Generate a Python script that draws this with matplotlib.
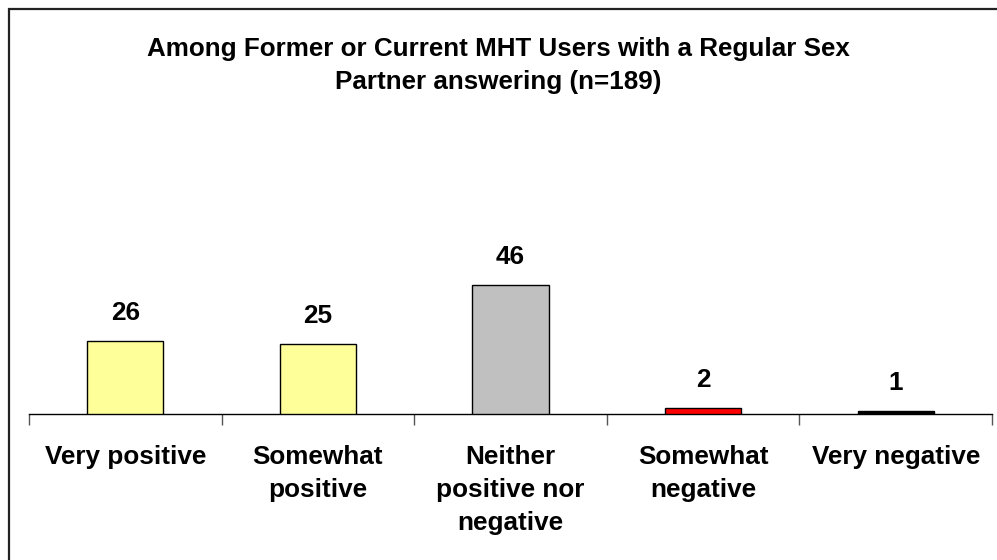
import matplotlib
matplotlib.use("Agg")
import matplotlib.pyplot as plt
from matplotlib.patches import Rectangle

categories = ["Very positive", "Somewhat\npositive", "Neither\npositive nor\nnegative", "Somewhat\nnegative", "Very negative"]
values = [26, 25, 46, 2, 1]
colors = ["#FFFF99", "#FFFF99", "#C0C0C0", "#FF0000", "#000000"]
title = "Among Former or Current MHT Users with a Regular Sex\nPartner answering (n=189)"

plt.rcParams['font.family'] = ['Liberation Sans', 'DejaVu Sans']

W, H = 997, 560
fig = plt.figure(figsize=(W/100, H/100), dpi=100)
fig.patches.append(Rectangle((9/W, -10/H), (1020-9)/W, (H-9+10)/H, transform=fig.transFigure,
                             fill=False, edgecolor="#222222", linewidth=1.6))

ax_left, ax_right = 29/W, 992/W
ax_bottom, ax_top = (H-414)/H, (H-134)/H
ax = fig.add_axes([ax_left, ax_bottom, ax_right-ax_left, ax_top-ax_bottom])
ax.patch.set_visible(False)
x = list(range(len(categories)))
ax.bar(x, values, width=0.395, color=colors, edgecolor="black", linewidth=1.0, zorder=3)
ax.set_xlim(-0.5, len(categories)-0.5)
ax.set_ylim(0, 100)
for s in ["top", "right", "left"]:
    ax.spines[s].set_visible(False)
ax.spines["bottom"].set_linewidth(1.0)
ax.set_yticks([])
ax.set_xticks([i - 0.5 for i in range(len(categories)+1)])
ax.set_xticklabels([])
ax.tick_params(axis="x", direction="out", length=8, width=1, color="#555555")
for i, (v, c) in enumerate(zip(values, categories)):
    ax.text(i, v + 10, str(v), ha="center", va="center", fontsize=18.8, fontweight="bold", clip_on=False)
    ax.text(i, -11.1, c, ha="center", va="top", fontsize=18.8, fontweight="bold",
            linespacing=1.48, clip_on=False)

fig.text(0.5, (H-65.5)/H, title, ha="center", va="center", fontsize=18.7, fontweight="bold", linespacing=1.48)

fig.savefig("out.png", dpi=100)
